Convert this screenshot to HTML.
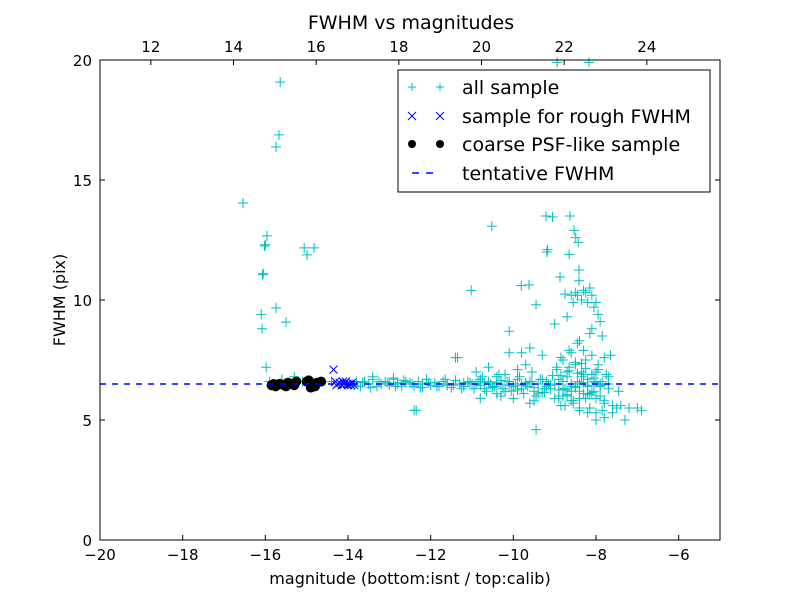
<!DOCTYPE html>
<html><head><meta charset="utf-8"><style>
body{margin:0;background:#fff;}
svg{display:block;font-family:"DejaVu Sans","Liberation Sans",sans-serif;}
</style></head><body>
<svg id="chart" width="800" height="600" viewBox="0 0 800 600" xmlns="http://www.w3.org/2000/svg"></svg>
<script>
const allX=[-16.54,-15.64,-15.67,-15.74,-15.96,-16.0,-16.02,-16.05,-16.07,-15.06,-14.82,-14.99,-15.74,-16.1,-15.5,-16.08,-15.98,-15.9,-15.6,-15.3,-15.1,-14.7,-14.4,
-13.9,-13.8,-13.7,-13.6,-13.5,-13.4,-13.3,-13.2,-13.1,-13.0,-12.9,-12.8,-12.7,-12.6,-12.5,-12.4,-12.3,-12.2,-12.1,-12.0,-11.9,-11.8,-11.7,-11.6,-11.5,-11.4,-11.3,-11.2,-11.1,-11.0,
-13.85,-13.65,-13.45,-13.25,-13.05,-12.85,-12.65,-12.45,-12.25,-12.05,-11.85,-11.65,-11.45,-11.25,-11.05,-12.35,-11.35,-13.4,-12.9,
-10.9,-10.8,-10.7,-10.6,-10.5,-10.4,-10.3,-10.2,-10.1,-10.0,-9.9,-9.8,-9.7,-9.6,-9.5,-9.4,-9.3,-9.2,-9.1,
-10.95,-10.85,-10.75,-10.65,-10.55,-10.45,-10.35,-10.25,-10.15,-10.05,-9.95,-9.85,-9.75,-9.65,-9.55,-9.45,-9.35,-9.25,-9.15,
-10.9,-10.6,-10.3,-10.0,-9.7,-9.4,-10.8,-10.2,-9.9,-9.5,-10.1,-9.8,-9.45,-9.6,-10.4,-9.55,
-9.0,-8.95,-8.9,-8.85,-8.8,-8.75,-8.7,-8.65,-8.6,-8.55,-8.5,-8.45,-8.4,-8.35,-8.3,-8.25,-8.2,-8.15,-8.1,-8.05,-8.0,-7.95,-7.9,-7.85,-7.8,
-9.0,-8.9,-8.8,-8.7,-8.6,-8.5,-8.4,-8.3,-8.2,-8.1,-8.0,-7.9,-7.8,-7.7,-7.6,
-8.95,-8.85,-8.75,-8.65,-8.55,-8.45,-8.35,-8.25,-8.15,-8.05,-7.95,-7.85,-7.75,
-8.8,-8.7,-8.6,-8.5,-8.4,-8.3,-8.2,-8.1,-8.0,-7.9,-7.8,-7.7,
-8.9,-8.6,-8.4,-8.2,-8.0,-7.8,-7.6,-7.5,-7.4,-7.3,-7.2,-7.0,-6.9,-7.65,-7.45,
-9.21,-9.05,-8.63,-10.52,-8.53,-8.49,-8.43,-9.19,-9.17,-8.65,-8.41,-8.87,-8.41,-11.02,-9.81,-9.62,-8.94,-8.17,
-8.5,-8.45,-8.35,-8.3,-8.25,-8.2,-8.15,-8.1,-8.05,-8.0,-7.95,-7.9,-7.85,-8.55,-8.6,-8.4,-9.0,-9.3,-9.6,-10.1,-11.4,-12.4,-9.45,-8.75,-8.7,-7.7,
-10.7,-10.5,-10.3,-10.1,-9.9,-9.7,-9.5,-9.3,-9.1,-8.9,-8.7,-8.5,-8.3,-8.1,-7.9,-8.85,-8.65,-8.45,-8.25,-8.05,-9.05,-9.25,-8.75,-8.35,-8.15,
-12.8,-12.2,-11.6,-11.2,-10.8,-10.4,-9.8,-9.2,-8.8,-8.6,-8.4,-8.2,-8.0];
const allY=[14.04,19.08,16.88,16.38,12.67,12.3,12.25,11.1,11.05,12.17,12.17,11.88,9.67,9.4,9.08,8.8,7.2,6.6,6.7,6.8,6.6,6.5,6.6,
6.5,6.6,6.4,6.6,6.5,6.7,6.4,6.5,6.6,6.45,6.7,6.5,6.4,6.6,6.55,6.4,6.6,6.5,6.7,6.45,6.55,6.4,6.6,6.5,6.35,6.65,6.5,6.4,6.6,6.5,
6.45,6.55,6.35,6.6,6.55,6.4,6.65,6.5,6.35,6.55,6.4,6.7,6.45,6.3,6.55,5.4,7.6,6.8,6.75,
6.5,6.7,6.3,6.6,6.4,6.8,6.5,6.2,6.6,6.4,6.7,6.3,6.5,6.6,6.2,6.5,6.7,6.4,6.3,
6.3,6.6,6.8,6.2,6.5,6.4,6.9,6.3,6.6,6.2,6.5,6.8,6.1,6.4,6.6,6.0,6.7,6.3,6.5,
7.0,7.2,6.0,5.9,7.3,6.1,5.9,6.9,7.1,5.8,8.7,7.8,4.6,5.7,6.1,7.0,
6.5,7.2,6.0,7.6,6.3,5.6,6.8,7.9,6.2,5.8,7.3,6.6,5.9,7.0,6.1,7.5,6.4,5.5,6.9,6.2,5.3,7.1,6.0,6.6,5.8,
5.9,6.7,7.5,6.0,7.8,6.4,5.5,6.9,6.1,7.7,5.9,6.5,5.7,6.3,5.6,
7.1,5.6,6.3,7.2,5.7,8.2,6.8,5.9,8.6,6.6,7.3,5.4,6.9,
6.0,7.0,6.5,7.4,6.2,7.9,6.7,8.8,7.0,6.4,7.6,6.8,
5.9,5.8,5.4,5.3,5.0,5.1,5.3,5.5,5.6,5.0,5.5,5.5,5.4,7.7,6.2,
13.5,13.46,13.5,13.08,12.9,12.6,12.4,12.0,12.1,11.9,11.25,10.96,10.8,10.4,10.6,10.63,19.9,19.9,
10.3,10.2,10.0,10.4,10.3,9.9,10.5,10.2,9.7,9.9,9.4,9.1,8.5,9.9,10.2,8.3,9.0,7.7,8.0,7.8,7.6,5.4,9.8,10.25,9.3,6.5,
6.55,6.35,6.65,6.45,6.25,6.55,6.35,6.15,6.45,6.25,6.05,6.35,6.55,6.15,6.45,6.85,7.05,6.95,7.15,6.75,6.85,6.15,6.25,7.35,6.05,
6.55,6.35,6.45,6.55,6.45,6.55,6.45,6.6,6.6,6.4,6.5,6.45,6.55];
const roughX=[-14.35,-14.3,-14.25,-14.2,-14.15,-14.1,-14.05,-14.0,-13.95,-13.9,-13.85,-14.28,-14.12,-14.02,-13.92];
const roughY=[7.1,6.6,6.5,6.55,6.45,6.5,6.6,6.45,6.5,6.55,6.45,6.45,6.6,6.5,6.45];
const psfX=[-15.85,-15.75,-15.65,-15.55,-15.45,-15.35,-15.25,-15.0,-14.95,-14.85,-14.75,-14.65,-15.8,-15.5,-15.3,-14.9,-14.8];
const psfY=[6.45,6.4,6.5,6.45,6.55,6.5,6.6,6.6,6.65,6.4,6.55,6.6,6.5,6.4,6.45,6.35,6.4];
const xTicks=[-20,-18,-16,-14,-12,-10,-8,-6];
const yTicks=[0,5,10,15,20];
const topTicks=[12,14,16,18,20,22,24];
const fwhmLevel=6.5;

const NS="http://www.w3.org/2000/svg";
const svg=document.getElementById('chart');
const L=100,R=720,T=60,B=540;
const xs=v=>L+(v+20)/15*(R-L);
const ys=v=>B-v/20*(B-T);
const xt=v=>xs(v-30.77);
function mk(tag,attrs,parent){const e=document.createElementNS(NS,tag);for(const k in attrs)e.setAttribute(k,attrs[k]);(parent||svg).appendChild(e);return e;}
function txt(s,x,y,size,anchor,parent){const t=mk('text',{x:x,y:y,'font-size':size,'text-anchor':anchor||'middle',fill:'#000'},parent);t.textContent=s;return t;}

const gAll=mk('g',{stroke:'#00bfbf','stroke-width':1});


allX.forEach((x,i)=>{const px=xs(x),py=ys(allY[i]);if(px<L||px>R||py<T)return;
 const p=mk('path',{d:`M${px-5},${py}H${px+5}M${px},${py-5}V${py+5}`},gAll);
 
 });
const gPsf=mk('g',{fill:'#000'});


psfX.forEach((x,i)=>{const c=mk('circle',{cx:xs(x),cy:ys(psfY[i]),r:5},gPsf);
 
 });
const gR=mk('g',{stroke:'#0000ff','stroke-width':1});


roughX.forEach((x,i)=>{const px=xs(x),py=ys(roughY[i]);
 const p=mk('path',{d:`M${px-4},${py-4}L${px+4},${py+4}M${px-4},${py+4}L${px+4},${py-4}`},gR);
 
 });
const dl=mk('line',{x1:L,x2:R,y1:ys(fwhmLevel),y2:ys(fwhmLevel),stroke:'#0000ff','stroke-width':1.5,'stroke-dasharray':'6,6'});



const frame=mk('rect',{x:L,y:T,width:R-L,height:B-T,fill:'none',stroke:'#000','stroke-width':1});


const ax=mk('g',{stroke:'#000','stroke-width':1});
xTicks.forEach(v=>{const x=xs(v);mk('path',{d:`M${x},${B}V${B-5}`},ax);
 const t=txt('\u2212'+Math.abs(v),x,B+20,15);});
yTicks.forEach(v=>{const y=ys(v);mk('path',{d:`M${L},${y}H${L+5}M${R},${y}H${R-5}`},ax);
 const t=txt(String(v),L-8,y+6,15,'end');});
topTicks.forEach(v=>{const x=xt(v);mk('path',{d:`M${x},${T}V${T+5}`},ax);
 const t=txt(String(v),x,T-8,15);});

let t=txt('FWHM vs magnitudes',411,29,19);
t=txt('magnitude (bottom:isnt / top:calib)',410,584,16);
t=txt('FWHM (pix)',0,0,16);t.setAttribute('transform','translate(65,300) rotate(-90)');

const lg=mk('g',{});


mk('rect',{x:398,y:70,width:312,height:122,fill:'#fff',stroke:'#000','stroke-width':1},lg);
const ly=[87,116,144,173];
const labels=['all sample','sample for rough FWHM','coarse PSF-like sample','tentative FWHM'];
[412,440].forEach(x=>{
 mk('path',{d:`M${x-4},${ly[0]}H${x+4}M${x},${ly[0]-4}V${ly[0]+4}`,stroke:'#00bfbf'},lg);
 mk('path',{d:`M${x-4},${ly[1]-4}L${x+4},${ly[1]+4}M${x-4},${ly[1]+4}L${x+4},${ly[1]-4}`,stroke:'#0000ff'},lg);
 mk('circle',{cx:x,cy:ly[2],r:4,fill:'#000'},lg);});
mk('line',{x1:412,x2:440,y1:ly[3],y2:ly[3],stroke:'#0000ff','stroke-width':1.5,'stroke-dasharray':'7,7'},lg);
labels.forEach((s,i)=>{const e=txt(s,462,ly[i]+7,19,'start',lg);});
</script>
</body></html>
